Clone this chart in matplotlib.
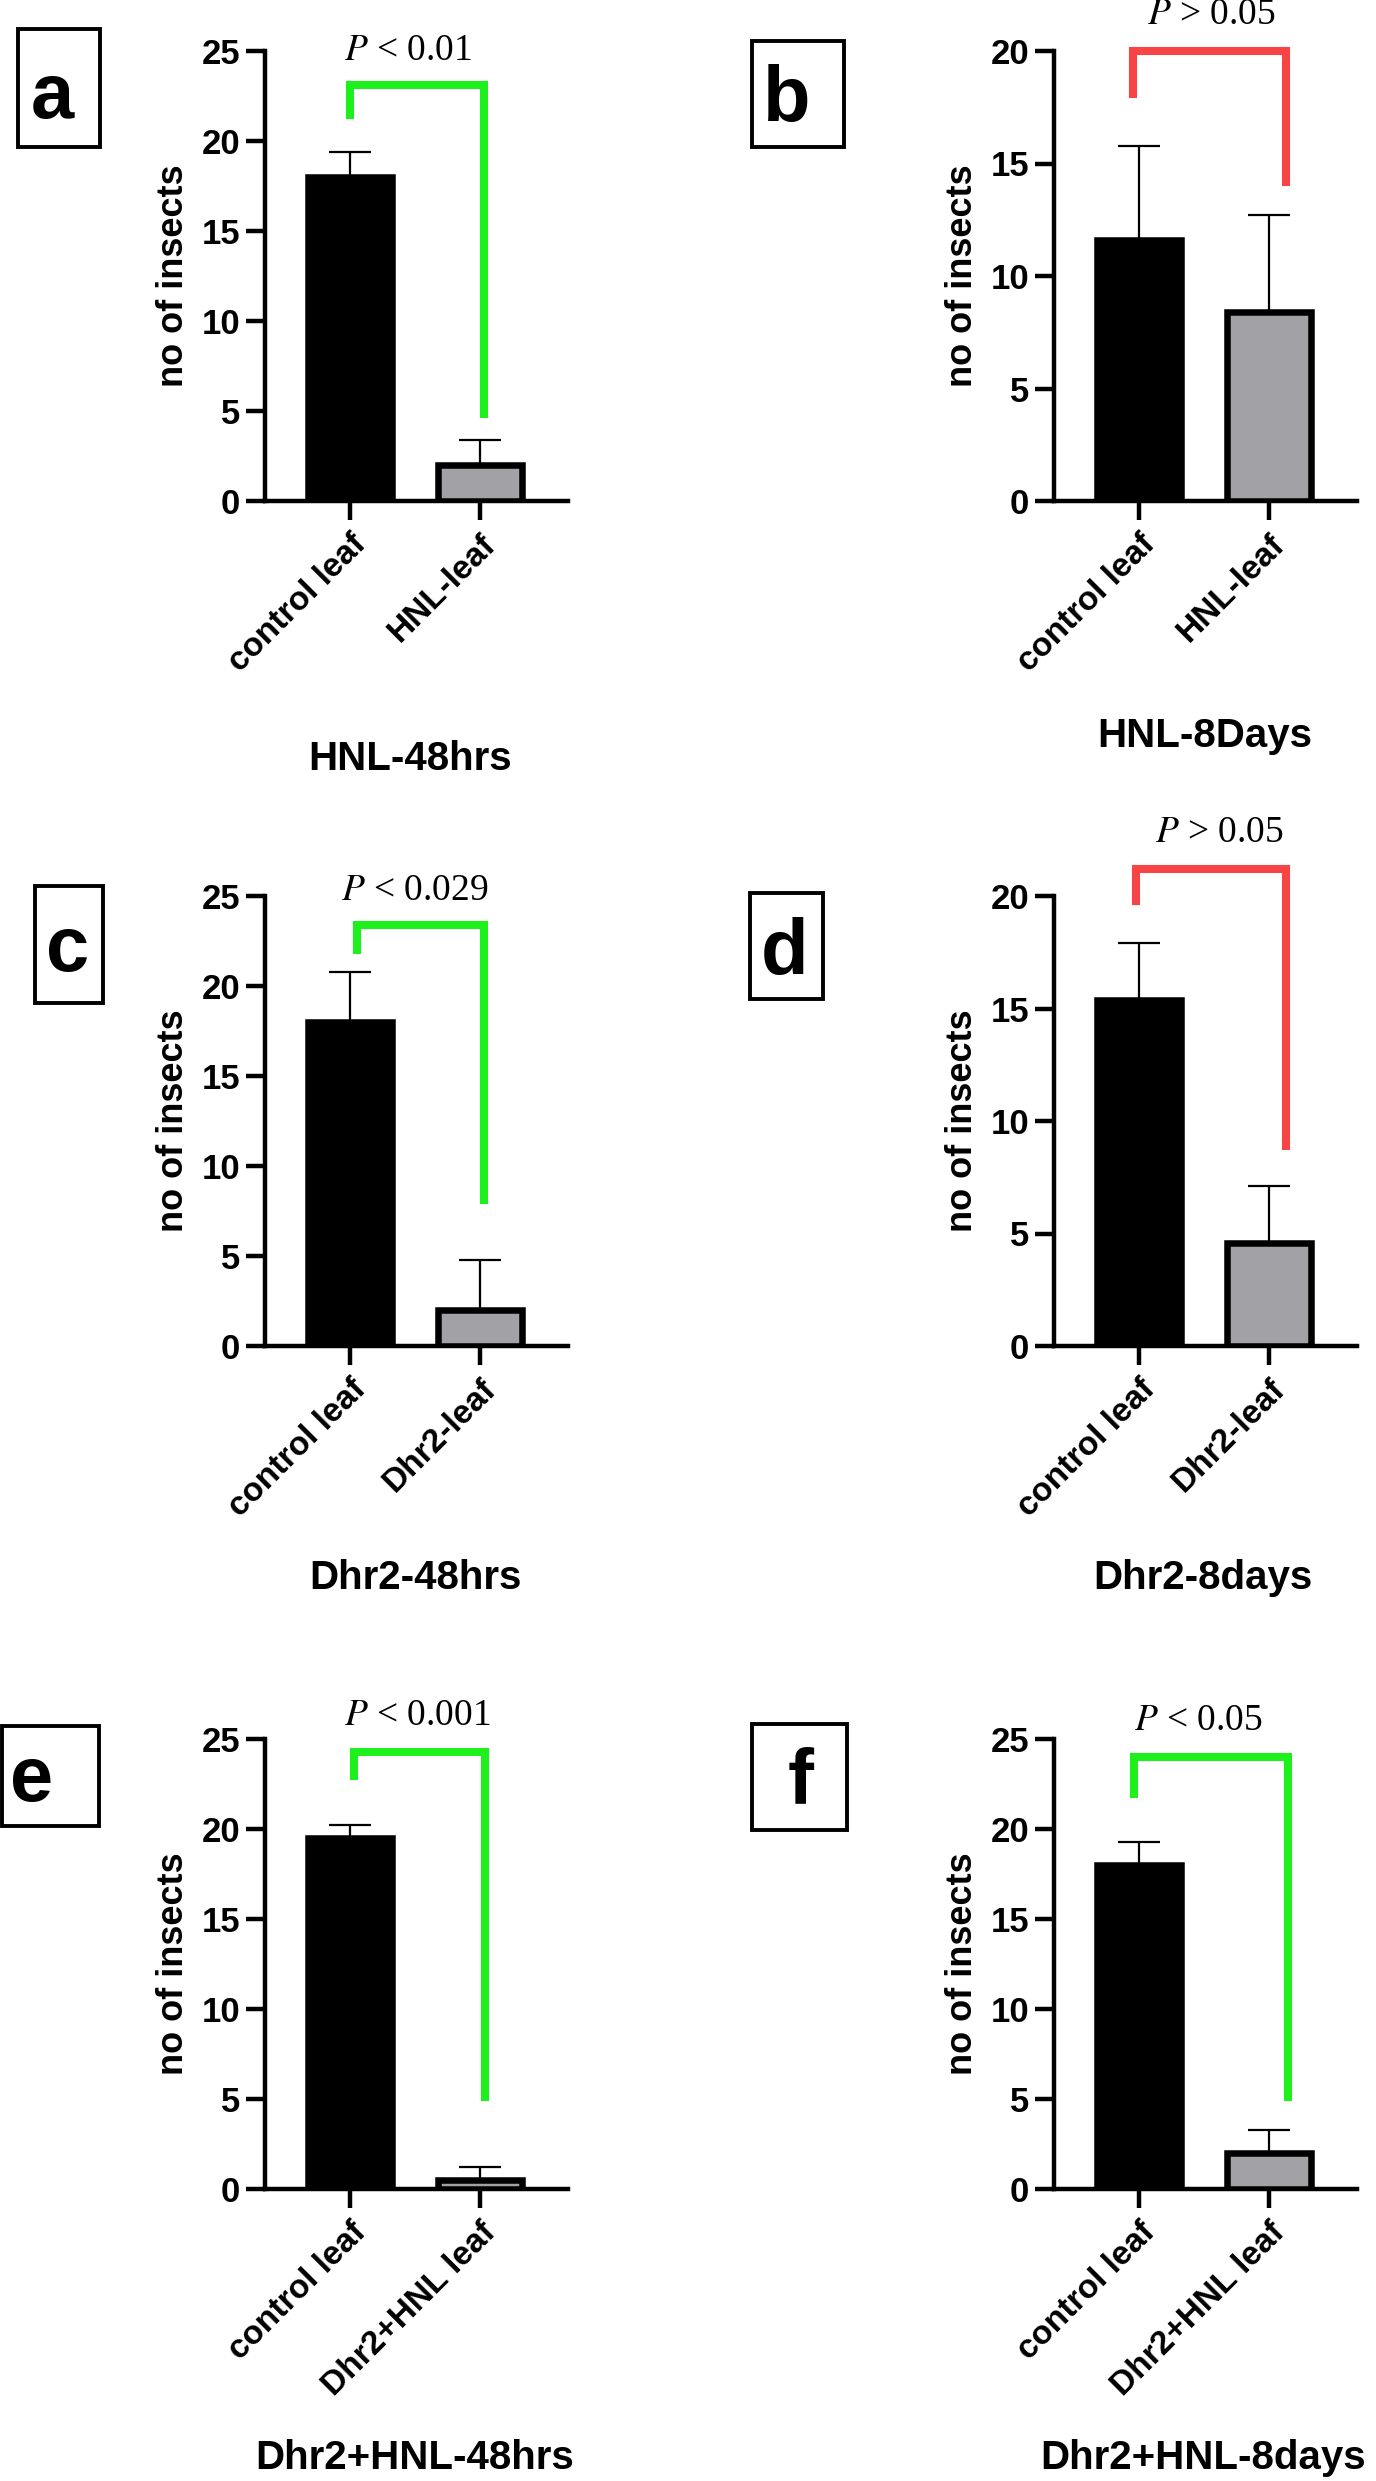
import matplotlib.pyplot as plt
from matplotlib.patches import Rectangle

plt.rcParams['font.family'] = ['Liberation Sans', 'DejaVu Sans']
plt.rcParams['mathtext.fontset'] = 'stix'

W, H = 1376, 2481

# chart data
panel_letters = ['a', 'b', 'c', 'd', 'e', 'f']
titles = ['HNL-48hrs', 'HNL-8Days', 'Dhr2-48hrs', 'Dhr2-8days',
          'Dhr2+HNL-48hrs', 'Dhr2+HNL-8days']
group_labels = [['control leaf', 'HNL-leaf'],
                ['control leaf', 'HNL-leaf'],
                ['control leaf', 'Dhr2-leaf'],
                ['control leaf', 'Dhr2-leaf'],
                ['control leaf', 'Dhr2+HNL leaf'],
                ['control leaf', 'Dhr2+HNL leaf']]
means = [[18, 2], [11.6, 8.4], [18, 2], [15.4, 4.6], [19.5, 0.5], [18, 2]]
errors = [[1.4, 1.4], [4.2, 4.3], [2.8, 2.8], [2.5, 2.5], [0.7, 0.7], [1.3, 1.3]]
ymax = [25, 20, 25, 20, 25, 25]
p_texts = [r'$P$ < 0.01', r'$P$ > 0.05', r'$P$ < 0.029', r'$P$ > 0.05',
           r'$P$ < 0.001', r'$P$ < 0.05']
significant = [True, False, True, False, True, True]

# bracket geometry (data units)
bracket_top = [23.1, 20.0, 23.4, 21.2, 24.3, 24.0]
bracket_left_end = [21.2, 17.9, 21.8, 19.6, 22.7, 21.7]
bracket_right_end = [4.6, 14.0, 7.9, 8.7, 4.9, 4.9]
bracket_x = [[0, 1.03], [-0.05, 1.13], [0.05, 1.03], [-0.02, 1.13], [0.03, 1.04], [-0.04, 1.15]]
p_pos = [(0.45, 25.0), (0.56, 21.6), (0.5, 25.3), (0.62, 22.8), (0.52, 26.3), (0.46, 26.0)]

# layout in pixels
ax_left = [265, 1054]
ax_top = [51, 896, 1739]
ax_w, ax_h = 303, 450
title_pos = [(410, 759), (1205, 736), (415, 1578), (1203, 1578), (415, 2458), (1203, 2458)]
boxes = [(18, 29, 100, 147), (752, 41, 844, 147), (35, 886, 103, 1003),
         (750, 893, 823, 999), (2, 1726, 99, 1826), (752, 1724, 847, 1830)]
letter_pos = [(52, 118), (787, 121), (68, 971), (784, 974), (32, 1801), (801, 1803)]

green = '#1ef01e'
red = '#f84444'
gray = '#a2a2a6'

fig = plt.figure(figsize=(W / 100, H / 100), dpi=100)

for i in range(6):
    row, col = i // 2, i % 2
    left = ax_left[col] / W
    bottom = 1 - (ax_top[row] + ax_h) / H
    ax = fig.add_axes([left, bottom, ax_w / W, ax_h / H])

    x = [0, 1]
    ax.bar(x, means[i], width=0.646, color=['black', gray], edgecolor='black',
           linewidth=4.7, zorder=3)
    ax.errorbar(x, means[i], yerr=[[0, 0], errors[i]], fmt='none', ecolor='black',
                elinewidth=1.6, capsize=15, capthick=1.6, zorder=2)

    ax.set_xlim(-0.654, 1.677)
    ax.set_ylim(0, ymax[i])
    ax.set_yticks(range(0, ymax[i] + 1, 5))
    ax.set_xticks(x)
    ax.set_xticklabels(group_labels[i], rotation=45, ha='right', va='top',
                       rotation_mode='anchor', fontsize=24, fontweight='bold')
    for lab in ax.get_yticklabels():
        lab.set_fontsize(25)
        lab.set_fontweight('bold')
    ax.tick_params(axis='both', length=14, width=3.2, direction='out')
    ax.tick_params(axis='y', pad=4)
    ax.tick_params(axis='x', pad=6)
    for s in ['top', 'right']:
        ax.spines[s].set_visible(False)
    for s in ['left', 'bottom']:
        ax.spines[s].set_linewidth(3.2)
    ax.set_ylabel('no of insects', fontsize=26, fontweight='bold')
    ax.yaxis.set_label_coords(-0.245, 0.5)

    c = green if significant[i] else red
    xl, xr = bracket_x[i]
    ax.plot([xl, xl, xr, xr],
            [bracket_left_end[i], bracket_top[i], bracket_top[i], bracket_right_end[i]],
            color=c, linewidth=5.8, solid_joinstyle='miter', solid_capstyle='butt',
            clip_on=False, zorder=4)
    ax.text(p_pos[i][0], p_pos[i][1], p_texts[i], fontsize=27, family='Liberation Serif',
            ha='center', va='center', clip_on=False)

    tx, ty = title_pos[i]
    fig.text(tx / W, 1 - ty / H, titles[i], fontsize=29, fontweight='bold',
             ha='center', va='center')

    x0, y0, x1, y1 = boxes[i]
    fig.patches.append(Rectangle((x0 / W, 1 - y1 / H), (x1 - x0) / W, (y1 - y0) / H,
                                 transform=fig.transFigure, fill=False,
                                 edgecolor='black', linewidth=2.8))
    lx, ly = letter_pos[i]
    fig.text(lx / W, 1 - ly / H, panel_letters[i], fontsize=56, fontweight='bold',
             ha='center', va='baseline')

fig.savefig('out.png', dpi=100)
